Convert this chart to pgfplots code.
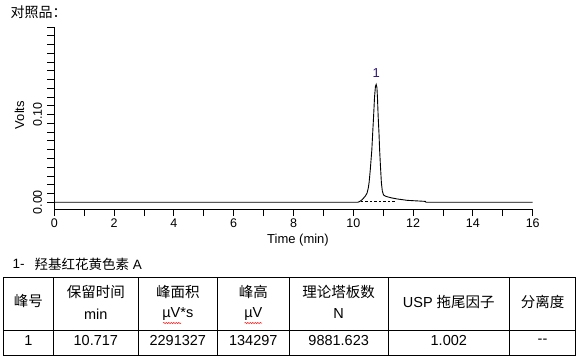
\documentclass[border=0pt]{standalone}
\usepackage{fontspec}
\usepackage{pgfplots}
\pgfplotsset{compat=1.18}
\usetikzlibrary{decorations.pathmorphing}
\setmainfont{Liberation Sans}
\newfontfamily\cjk{Noto Sans CJK SC}
\newcommand\fs[1]{\fontsize{#1}{#1}\selectfont}
\definecolor{peaklab}{RGB}{48,24,120}
\begin{document}
\begin{tikzpicture}[x=1pt,y=1pt]
\path[use as bounding box] (0pt,0pt) rectangle (583pt,360pt);
\begin{axis}[
  at={(54.3pt,151pt)}, anchor=south west,
  scale only axis, width=478.4pt, height=182pt,
  xmin=0, xmax=16, ymin=-0.0077, ymax=0.2,
  axis x line=bottom, axis y line=left,
  axis line style={-, line width=0.9pt},
  tick align=outside,
  major tick length=7pt, minor tick length=7pt,
  every tick/.style={black, line width=0.9pt},
  xtick={0,2,4,6,8,10,12,14,16}, xticklabels={0,2,4,6,8,10,12,14,16},
  minor x tick num=1,
  ytick={0,0.1,0.2}, yticklabels={0.00,0.10,{}},
  minor y tick num=9,
  xticklabel style={font=\fs{12.5}, inner sep=2.5pt},
  yticklabel style={font=\fs{12.5}, rotate=90, anchor=south, inner sep=0pt},
  yticklabel shift=5pt,
  /pgf/number format/assume math mode=true,
  clip=false,
]
\addplot[black, line width=0.9pt] coordinates {
(0,0) (10.15,0) (10.21,0.0008) (10.28,0.0025) (10.34,0.0046) (10.40,0.0070)
(10.46,0.0104) (10.50,0.0160) (10.53,0.0230) (10.57,0.0380) (10.62,0.0600)
(10.65,0.0800) (10.68,0.0990) (10.71,0.1200) (10.74,0.1320) (10.765,0.1345)
(10.79,0.1310) (10.81,0.1180) (10.83,0.0990) (10.86,0.0780) (10.88,0.0600)
(10.91,0.0400) (10.94,0.0220) (10.97,0.0130) (11.01,0.0084) (11.06,0.0072)
(11.13,0.0063) (11.28,0.0050) (11.46,0.0038) (11.80,0.0022) (12.10,0.0016)
(12.41,0.0010) (12.43,0.0000) (16,0)
};
\addplot[black, line width=0.6pt, dash pattern=on 2.5pt off 2pt] coordinates {(10.25,0.0006) (11.42,0.0006)};
\node[text=peaklab, font=\fs{13}, inner sep=0pt] at (axis cs:10.765,0.1345) [yshift=11pt] {1};
\end{axis}
\node[anchor=west, font=\fs{14}, inner sep=0pt] at (10.5pt,348pt) {\cjk 对照品：};
\node[rotate=90, font=\fs{13}, inner sep=0pt] at (19.5pt,245pt) {Volts};
\node[font=\fs{13}, inner sep=0pt] at (298pt,120pt) {Time (min)};
\node[anchor=west, font=\fs{13.5}, inner sep=0pt] at (12.4pt,96pt) {1-};
\node[anchor=west, font=\fs{13.5}, inner sep=0pt] at (34.5pt,96pt) {{\cjk 羟基红花黄色素} A};
% table
\draw[line width=1pt] (3.3pt,82.7pt) rectangle (575.3pt,4.3pt);
\draw[line width=1pt] (3.3pt,30pt) -- (575.3pt,30pt);
\foreach \xx in {53.3,138.3,217.3,289.3,388,509.7} \draw[line width=1pt] (\xx pt,82.7pt) -- (\xx pt,4.3pt);
\begin{scope}[every node/.style={font=\fs{14.5}, inner sep=0pt}]
\node at (28.3pt,59.3pt) {\cjk 峰号};
\node at (95.8pt,67.7pt) {\cjk 保留时间};
\node at (95.8pt,46pt) {min};
\node at (177.8pt,67.7pt) {\cjk 峰面积};
\node at (177.8pt,46pt) {µV*s};
\node at (253.3pt,67.7pt) {\cjk 峰高};
\node at (253.3pt,46pt) {µV};
\node at (338.7pt,67.7pt) {\cjk 理论塔板数};
\node at (338.7pt,46pt) {N};
\node at (448.8pt,58.3pt) {USP {\cjk 拖尾因子}};
\node at (542.5pt,58.3pt) {\cjk 分离度};
\node at (28.3pt,19pt) {1};
\node at (95.8pt,19pt) {10.717};
\node at (177.8pt,19pt) {2291327};
\node at (253.3pt,19pt) {134297};
\node at (338.7pt,19pt) {9881.623};
\node at (448.8pt,19pt) {1.002};
\node at (542.5pt,19pt) {-{}-};
\end{scope}
\draw[red, line width=0.5pt, decorate, decoration={snake, amplitude=0.6pt, segment length=2.5pt}] (163pt,37pt) -- (181pt,37pt);
\draw[red, line width=0.5pt, decorate, decoration={snake, amplitude=0.6pt, segment length=2.5pt}] (244.5pt,37pt) -- (262pt,37pt);
\end{tikzpicture}
\end{document}
